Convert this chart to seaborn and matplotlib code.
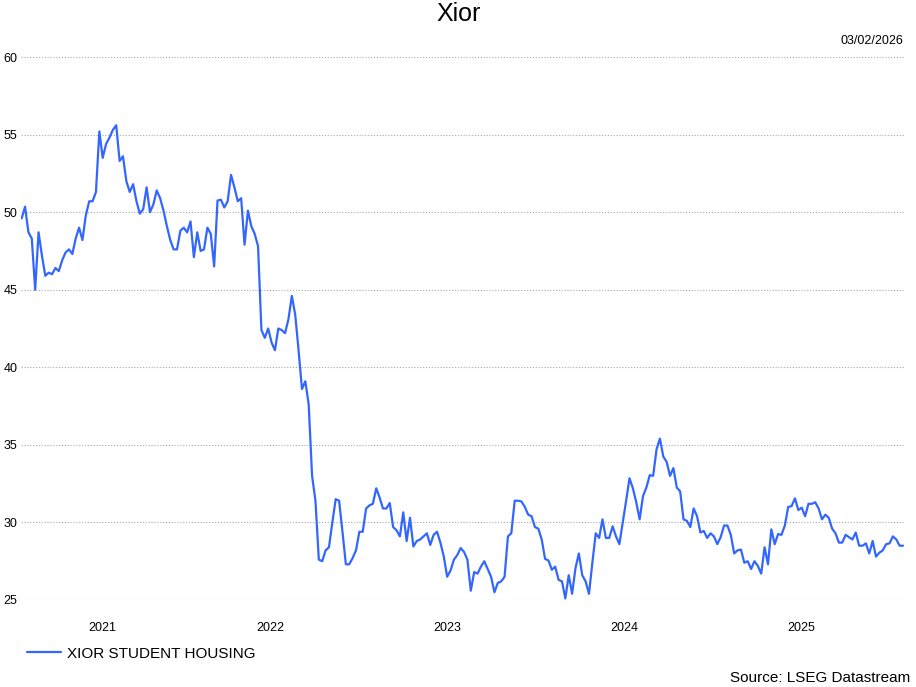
import matplotlib
matplotlib.use("Agg")
import matplotlib.pyplot as plt
import pandas as pd
import seaborn as sns

# Labels
TITLE = "Xior"
SERIES_NAME = "XIOR STUDENT HOUSING"
CHART_DATE = "03/02/2026"
SOURCE = "Source: LSEG Datastream"

# Weekly closing prices (EUR), one list per calendar year
close_2021 = [49.6, 50.35, 48.7, 48.3, 45.0, 48.7, 47.2, 45.9, 46.1, 46.0,
              46.4, 46.2, 46.9, 47.4, 47.6, 47.3, 48.3, 49.0, 48.2, 49.8,
              50.7, 50.7, 51.3, 55.2, 53.5, 54.4, 54.8, 55.3, 55.6, 53.3,
              53.6, 52.0, 51.3, 51.8, 50.7, 49.9, 50.2, 51.6, 50.0, 50.5,
              51.4, 50.9, 50.1, 49.1, 48.2, 47.6, 47.6, 48.8]
close_2022 = [49.0, 48.7, 49.4, 47.1, 48.7, 47.5, 47.6, 49.0, 48.6, 46.5,
              50.75, 50.8, 50.3, 50.7, 52.4, 51.6, 50.7, 50.9, 47.9, 50.1,
              49.1, 48.6, 47.8, 42.4, 41.9, 42.5, 41.6, 41.1, 42.5, 42.4,
              42.2, 43.1, 44.6, 43.4, 41.1, 38.6, 39.1, 37.6, 33.0, 31.4,
              27.6, 27.5, 28.2, 28.4, 30.0, 31.5, 31.4, 29.4, 27.3, 27.3,
              27.7, 28.2]
close_2023 = [29.4, 29.4, 30.9, 31.1, 31.2, 32.2, 31.6, 30.9, 30.9, 31.25,
              29.7, 29.5, 29.1, 30.65, 28.8, 30.3, 28.45, 28.8, 28.9, 29.1,
              29.3, 28.55, 29.2, 29.4, 28.7, 27.8, 26.5, 26.9, 27.6, 27.9,
              28.35, 28.1, 27.6, 25.6, 26.8, 26.7, 27.15, 27.5, 27.0, 26.5,
              25.5, 26.1, 26.2, 26.5, 29.1, 29.3, 31.4, 31.4, 31.35, 31.0,
              30.5, 30.4]
close_2024 = [29.7, 29.6, 28.9, 27.65, 27.55, 26.95, 27.15, 26.3, 26.2, 25.1,
              26.6, 25.4, 27.05, 28.0, 26.6, 26.2, 25.4, 27.4, 29.3, 29.0,
              30.2, 29.0, 29.0, 29.75, 29.1, 28.6, 30.0, 31.4, 32.85, 32.2,
              31.3, 30.2, 31.7, 32.25, 33.05, 33.0, 34.7, 35.4, 34.25, 33.9,
              33.0, 33.5, 32.25, 32.0, 30.2, 30.1, 29.7, 30.9, 30.4, 29.35,
              29.45, 29.0]
close_2025 = [29.3, 29.1, 28.6, 29.05, 29.8, 29.8, 29.2, 28.0, 28.2, 28.25,
              27.4, 27.5, 27.0, 27.5, 27.2, 26.7, 28.4, 27.3, 29.55, 28.6,
              29.25, 29.2, 29.8, 31.0, 31.05, 31.55, 30.8, 30.95, 30.4, 31.2,
              31.2, 31.3, 30.9, 30.2, 30.5, 30.3, 29.6, 29.3, 28.7, 28.7,
              29.2, 29.05, 28.9, 29.35, 28.5, 28.5, 28.65, 28.0, 28.8, 27.8,
              28.05, 28.2, 28.6]
close_2026 = [28.65, 29.1, 28.9, 28.5, 28.5]

FIRST_DATE = "2021-02-03"
LAST_DATE = "2026-01-29"

YEARS = [2021, 2022, 2023, 2024, 2025]
Y_TICKS = [25, 30, 35, 40, 45, 50, 55, 60]

LINE_COLOR = "#3366FF"
GRID_COLOR = "#a8a8a8"

W, H = 916, 687


# --------------------------------------------------------
# Build the weekly series
# --------------------------------------------------------
def load_data():
    values = close_2021 + close_2022 + close_2023 + close_2024 + close_2025 + close_2026
    dates = pd.date_range(FIRST_DATE, LAST_DATE, periods=len(values))
    return pd.DataFrame({"Date": dates, "Price": values})


# --------------------------------------------------------
# Year labels sit in the middle of the visible part of each year
# --------------------------------------------------------
def year_positions(df):
    first, last = df["Date"].iloc[0], df["Date"].iloc[-1]
    pos = []
    for y in YEARS:
        lo = max(pd.Timestamp(f"{y}-01-01"), first)
        hi = min(pd.Timestamp(f"{y + 1}-01-01"), last)
        pos.append(lo + (hi - lo) / 2)
    return pos


def plot(df):
    sns.set_style("white")
    plt.rcParams["font.family"] = ["Liberation Sans", "DejaVu Sans"]
    plt.rcParams["text.color"] = "black"
    plt.rcParams["xtick.color"] = "black"
    plt.rcParams["ytick.color"] = "black"

    fig = plt.figure(figsize=(W / 100, H / 100), dpi=100)
    ax = fig.add_axes([20.7 / W, 1 - 600 / H, (904 - 20.7) / W, 543 / H])

    sns.lineplot(data=df, x="Date", y="Price", color=LINE_COLOR,
                 linewidth=1.6, label=SERIES_NAME, ax=ax)

    ax.set_ylim(25, 60)
    ax.set_xlim(df["Date"].iloc[0] - pd.Timedelta(days=2),
                df["Date"].iloc[-1] + pd.Timedelta(days=2))
    ax.set_yticks(Y_TICKS)
    ax.set_yticklabels([str(v) for v in Y_TICKS])
    ax.set_xticks(year_positions(df))
    ax.set_xticklabels([str(y) for y in YEARS])
    ax.set_xlabel("")
    ax.set_ylabel("")

    ax.tick_params(axis="x", length=0, pad=16, labelsize=9, labelcolor="black")
    ax.tick_params(axis="y", length=0, pad=2.4, labelsize=9, labelcolor="black")
    ax.xaxis.grid(False)
    ax.yaxis.grid(True, color=GRID_COLOR, linestyle=(0, (1, 1.6)), linewidth=0.8)
    ax.set_axisbelow(True)
    for s in ax.spines.values():
        s.set_visible(False)

    # Legend below the axis
    leg = ax.legend(loc="center left", bbox_to_anchor=(26.7 / W, 1 - 653.5 / H),
                    bbox_transform=fig.transFigure, frameon=False, fontsize=11,
                    handlelength=2.25, handletextpad=0.37, borderpad=0, borderaxespad=0)
    for t in leg.get_texts():
        t.set_color("black")

    fig.text(459 / W, 1 - 21.3 / H, TITLE, ha="center", va="baseline", fontsize=18, color="black")
    fig.text(903.3 / W, 1 - 44.3 / H, CHART_DATE, ha="right", va="baseline", fontsize=9, color="black")
    fig.text(910 / W, 1 - 681.7 / H, SOURCE, ha="right", va="baseline", fontsize=11, color="black")

    fig.savefig("out.png", dpi=100)
    plt.close(fig)


def main():
    df = load_data()
    plot(df)


if __name__ == "__main__":
    main()
